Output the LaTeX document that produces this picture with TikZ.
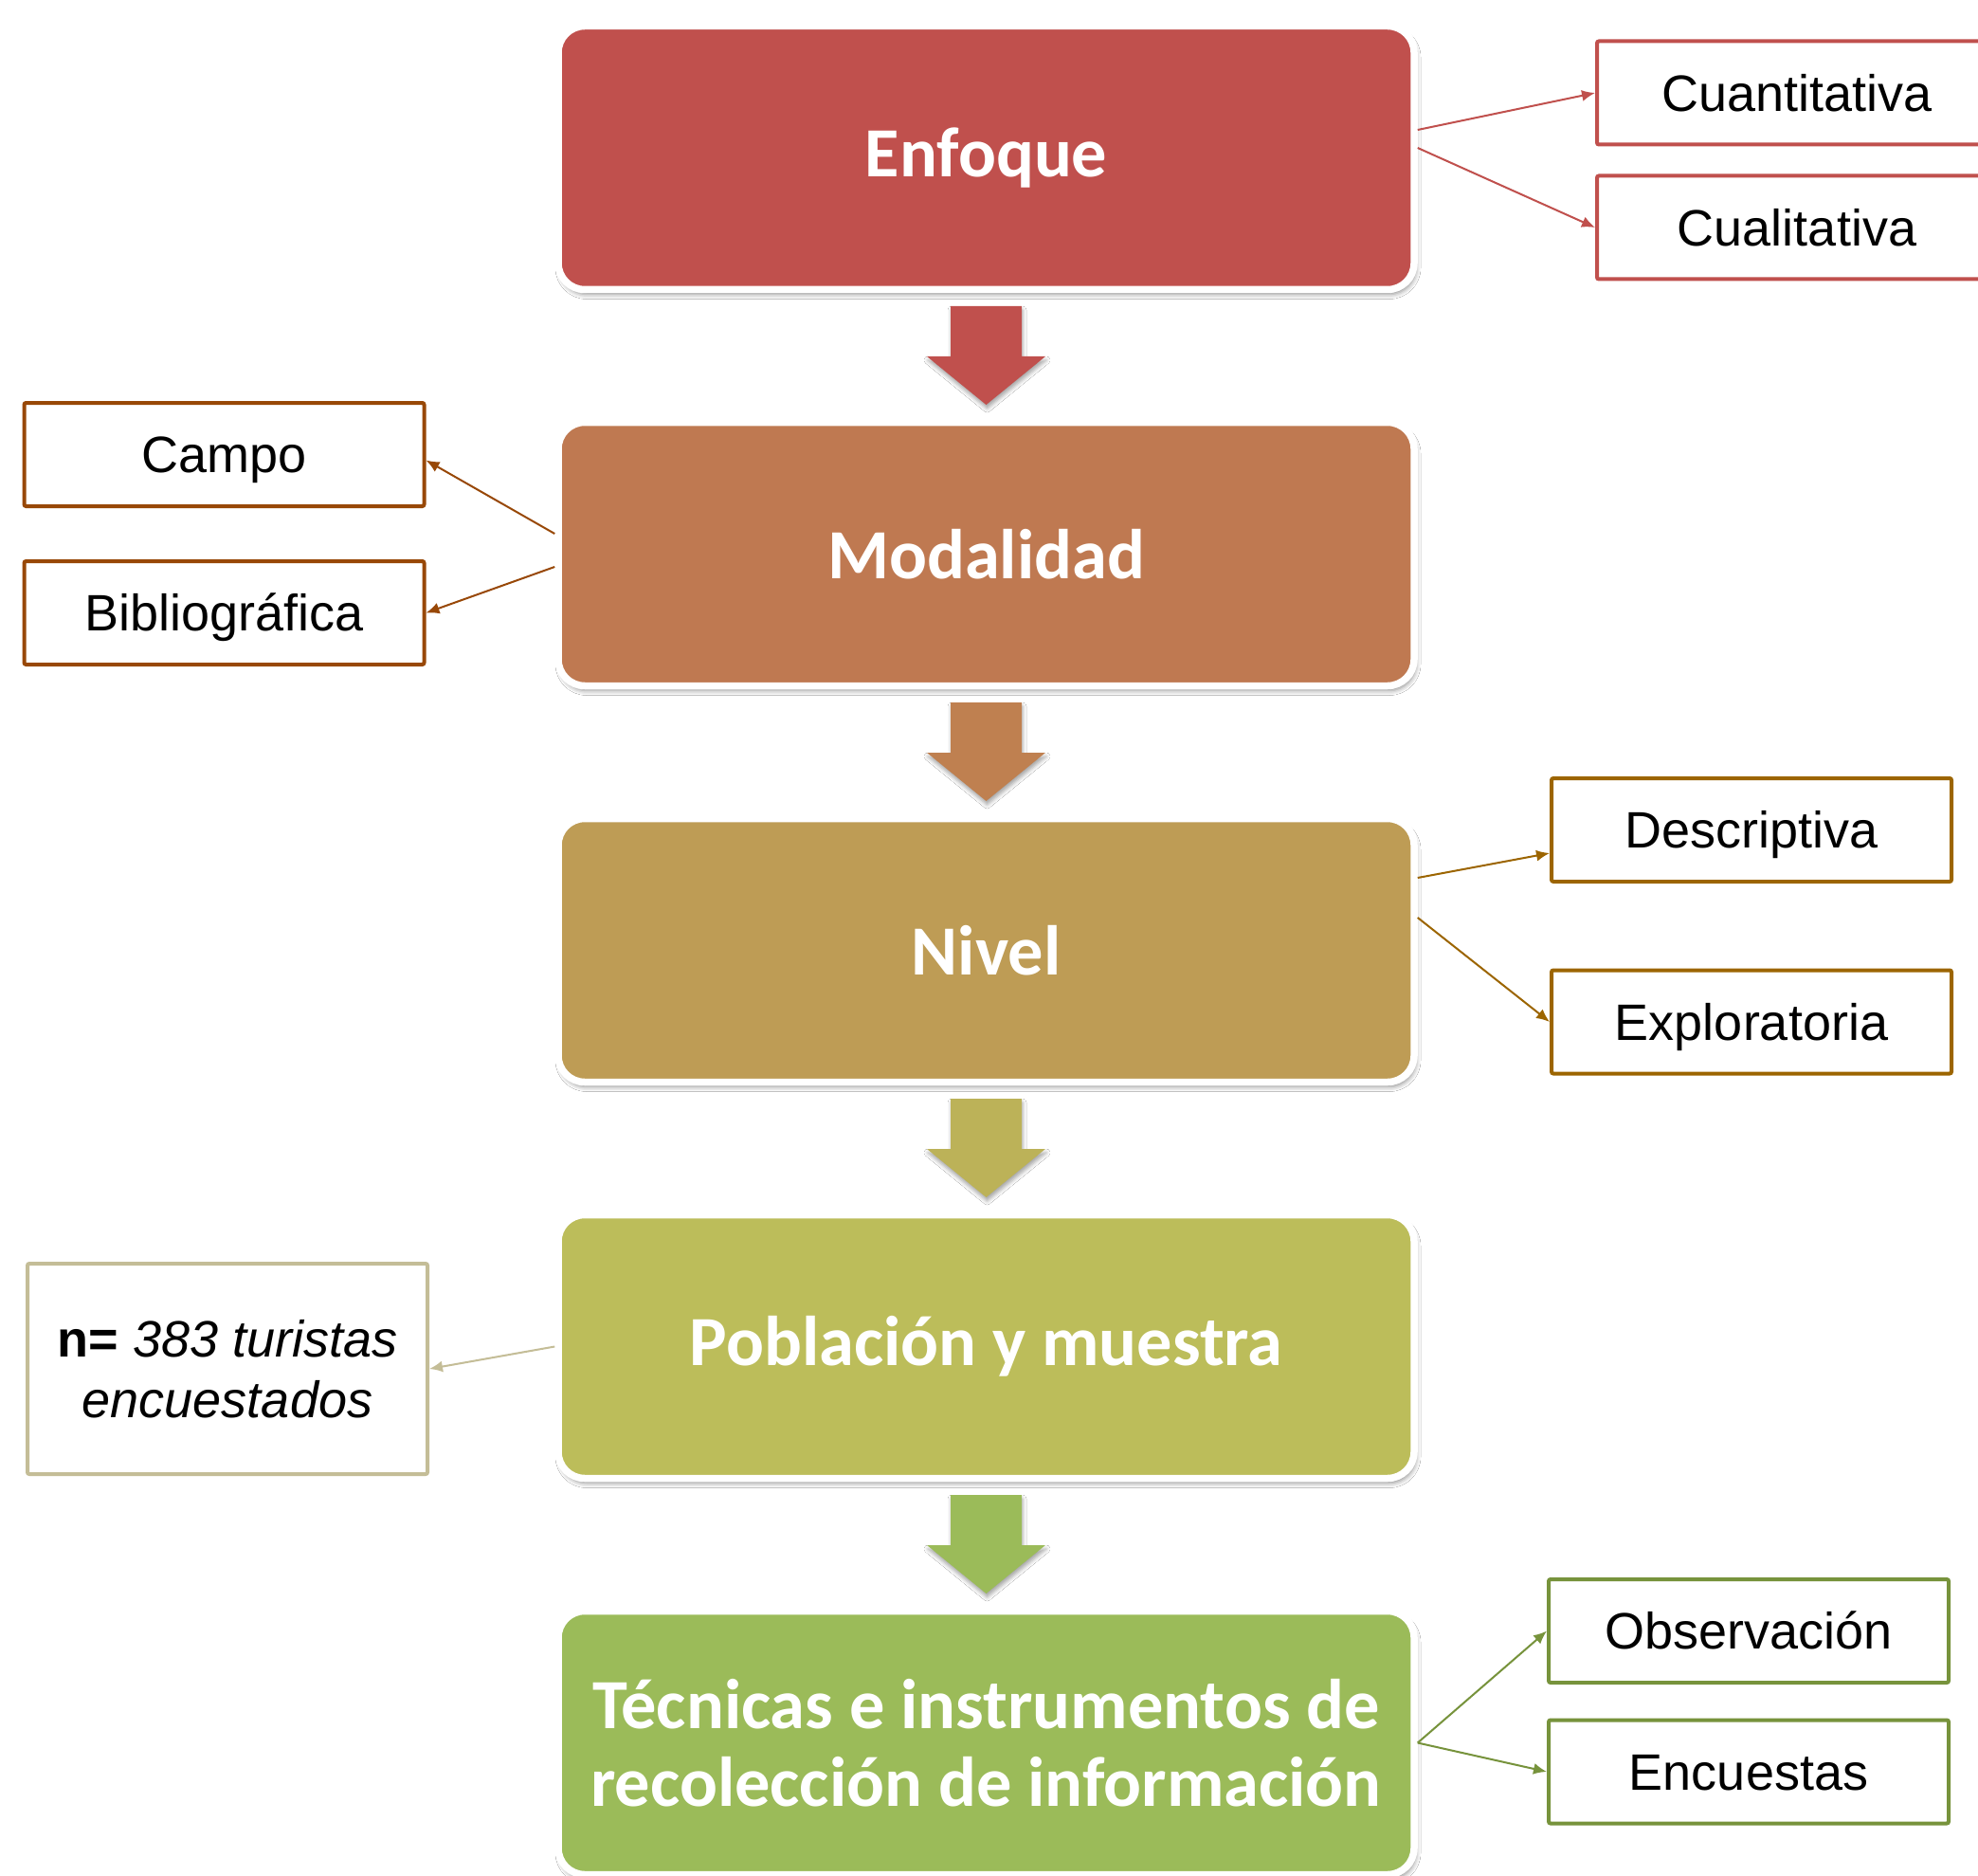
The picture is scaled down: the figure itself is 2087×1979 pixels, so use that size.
\documentclass[tikz,border=0pt]{standalone}
\usepackage{fontspec}
\setmainfont{Liberation Sans}
\newfontfamily\calib{Carlito}
\usetikzlibrary{arrows.meta,shadows.blur}

\definecolor{cRed}{HTML}{C0504D}
\definecolor{cMod}{HTML}{BF7951}
\definecolor{cNiv}{HTML}{BE9C55}
\definecolor{cPob}{HTML}{BCBD5A}
\definecolor{cTec}{HTML}{9BBB59}
\definecolor{aMod}{HTML}{BF8050}
\definecolor{aPob}{HTML}{BCB258}
\definecolor{cBrown}{HTML}{984807}
\definecolor{cGold}{HTML}{9C6500}
\definecolor{cTan}{HTML}{C4BD97}
\definecolor{cOlive}{HTML}{77933C}

\newcommand\barrow[3]{%
  \fill[#1, blur shadow={shadow xshift=0.5pt, shadow yshift=-2pt, shadow blur radius=2pt, shadow opacity=35}]
    (#2-37.5,#3) -- (#2+37.5,#3) -- (#2+37.5,#3+53) -- (#2+62.5,#3+53)
    -- (#2,#3+104) -- (#2-62.5,#3+53) -- (#2-37.5,#3+53) -- cycle;}

\begin{document}
\begin{tikzpicture}[x=0.5pt,y=-0.5pt,
  mainbox/.style={draw=white, fill=#1, line width=3.75pt, rounded corners=14pt,
    minimum width=451.5pt, minimum height=139pt, inner sep=0pt, align=center,
    text=white, font={\calib\bfseries\fontsize{37.2}{41}\selectfont},
    blur shadow={shadow xshift=1pt, shadow yshift=-2.5pt, shadow blur radius=2.5pt, shadow opacity=45}},
  sidebox/.style={draw=#1, fill=white, line width=2pt, rounded corners=1pt,
    minimum width=211pt, minimum height=54.5pt, inner sep=0pt,
    font={\fontsize{27}{32}\selectfont}},
  oneline/.style={text height=19.3pt, text depth=0pt},
  link/.style={draw=#1, line width=1pt, -{Latex[length=7pt,width=6pt]}}
]
\useasboundingbox (0,0) rectangle (2087,1979);
\clip (0,0) rectangle (2087,1979);
\fill[white] (0,0) rectangle (2087,1979);

% block arrows
\barrow{cRed}{1040.5}{323}
\barrow{aMod}{1040.5}{741}
\barrow{aPob}{1040.5}{1159}
\barrow{cTec}{1040.5}{1577}

% main boxes
\node[mainbox=cRed] (enf) at (1040.5,166.5) {Enfoque};
\node[mainbox=cMod] (mod) at (1040.5,584.5) {Modalidad};
\node[mainbox=cNiv] (niv) at (1040.5,1002.5) {Nivel};
\node[mainbox=cPob] (pob) at (1040.5,1420.5) {Población y muestra};
\node[mainbox=cTec] (tec) at (1040.5,1838.5) {Técnicas e instrumentos de\\recolección de información};

% side boxes
\node[sidebox=cRed, oneline] (cuan) at (1896,98) {Cuantitativa};
\node[sidebox=cRed, oneline] (cual) at (1896,240) {Cualitativa};
\node[sidebox=cBrown, oneline] (campo) at (236.5,479.5) {Campo};
\node[sidebox=cBrown, oneline] (bib) at (236.5,646.5) {Bibliográfica};
\node[sidebox=cGold, oneline] (desc) at (1848,875.5) {Descriptiva};
\node[sidebox=cGold, oneline] (expl) at (1848,1078) {Exploratoria};
\node[sidebox=cTan, minimum height=111pt, align=center] (nbox) at (240,1444)
  {\textbf{n=} \textit{383 turistas}\\\textit{encuestados}};
\node[sidebox=cOlive, oneline] (obs) at (1845,1720.5) {Observación};
\node[sidebox=cOlive, oneline] (enc) at (1845,1869) {Encuestas};

% connectors
\draw[link=cRed] ([yshift=14.75pt]enf.east) -- (cuan.west);
\draw[link=cRed] ([yshift=5.25pt]enf.east) -- (cual.west);
\draw[link=cBrown] ([yshift=10.75pt]mod.west) -- ([yshift=-3pt]campo.east);
\draw[link=cBrown] ([yshift=-6.75pt]mod.west) -- (bib.east);
\draw[link=cGold] ([yshift=38.25pt]niv.east) -- ([yshift=-12.25pt]desc.west);
\draw[link=cGold] ([yshift=17.25pt]niv.east) -- (expl.west);
\draw[link=cTan] (pob.west) -- (nbox.east);
\draw[link=cOlive] (tec.east) -- (obs.west);
\draw[link=cOlive] (tec.east) -- (enc.west);
\end{tikzpicture}
\end{document}
